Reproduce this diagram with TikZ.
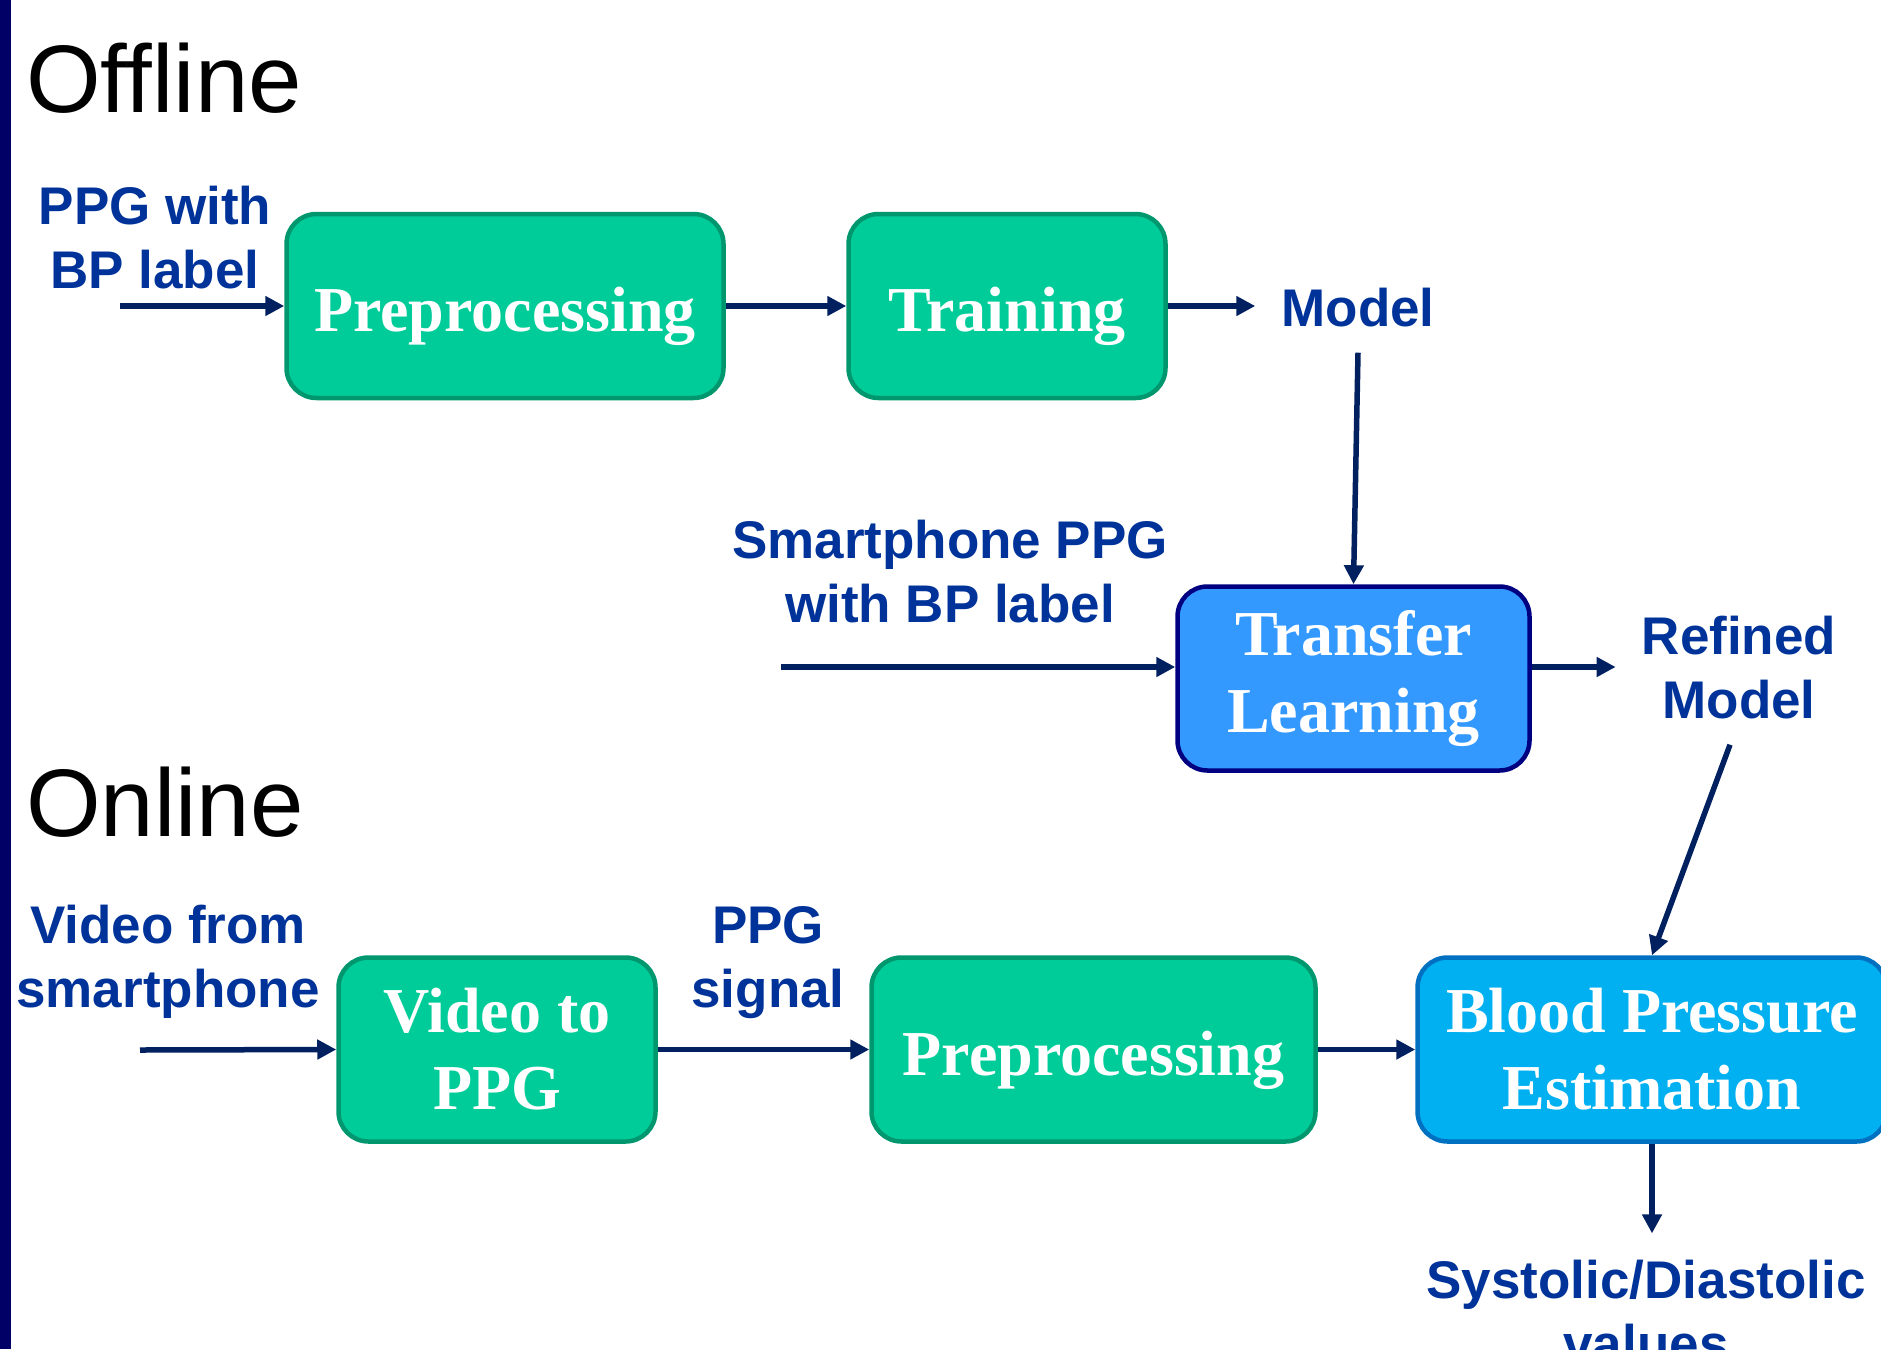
\documentclass[tikz,border=0pt]{standalone}
\usepackage{fontspec}
\setmainfont{Liberation Serif}
\setsansfont{Liberation Sans}
\usetikzlibrary{arrows.meta}
\definecolor{boxgreen}{HTML}{00CC99}
\definecolor{boxgreenline}{HTML}{00976F}
\definecolor{tlblue}{HTML}{3399FF}
\definecolor{tlline}{HTML}{000080}
\definecolor{bpblue}{HTML}{00B0F0}
\definecolor{bpline}{HTML}{0070C0}
\definecolor{lblblue}{HTML}{003399}
\definecolor{arrownavy}{HTML}{002060}
\definecolor{barnavy}{HTML}{000066}
\begin{document}
\begin{tikzpicture}[x=1pt,y=-1pt,
  blk/.style={draw,rounded corners=30pt,line width=4.5pt,text=white,
    font=\fontsize{64}{77}\selectfont\bfseries,align=center,inner sep=0pt,
    minimum height=184pt,execute at begin node={\rule{0pt}{66pt}}},
  grn/.style={blk,fill=boxgreen,draw=boxgreenline},
  lbl/.style={anchor=base,inner sep=26pt,text=lblblue,align=center,
    font=\sffamily\bfseries\fontsize{53}{64}\selectfont},
  ttl/.style={anchor=base west,inner sep=0pt,
    font=\sffamily\fontsize{96}{115}\selectfont},
  arr/.style={-{Triangle[length=19pt,width=19pt]},line width=5.5pt,draw=arrownavy}]
\useasboundingbox (0,0) rectangle (1881,1349);
\clip (0,0) rectangle (1881,1349);
\fill[barnavy] (0,0) rectangle (11,1349);
% offline part
\node[ttl] (offline) at (26,112) {Offline};
\node[lbl] (ppglab) at (155,288) {PPG with\\BP label};
\coordinate (ppgin) at (120,306);
\node[grn,minimum width=437pt] (pre1) at (505,306) {Preprocessing};
\node[grn,minimum width=317pt] (train) at (1007,306) {Training};
\node[lbl] (model) at (1358,326) {Model};
\node[lbl] (smlab) at (950,622) {Smartphone PPG\\with BP label};
\coordinate (smin) at (781,667);
\node[blk,fill=tlblue,draw=tlline,minimum width=352pt] (tl) at (1353.5,678.5)
  {Transfer\\Learning};
\node[lbl] (refined) at (1739,718) {Refined\\Model};
\draw[arr] (ppgin) -- (pre1.west);
\draw[arr] (pre1) -- (train);
\draw[arr] (train.east) -- (train.east -| model.west);
\draw[arr] (model.south) -- (tl.north);
\draw[arr] (smin) -- (smin -| tl.west);
\draw[arr] (tl.east |- smin) -- (refined.west |- smin);
% online part
\node[ttl] (online) at (26,836) {Online};
\node[lbl] (vidlab) at (168,1007) {Video from\\smartphone};
\coordinate (vidin) at (140,1050);
\node[grn,minimum width=317pt] (v2p) at (497,1049.5) {Video to\\PPG};
\node[lbl] (ppgsig) at (768,1007) {PPG\\signal};
\node[grn,minimum width=444pt] (pre2) at (1093.5,1049.5) {Preprocessing};
\node[blk,fill=bpblue,draw=bpline,minimum width=469pt] (bp) at (1652,1049.5)
  {Blood Pressure\\Estimation};
\node[lbl] (values) at (1646,1362) {Systolic/Diastolic\\values};
\draw[arr] (vidin) -- (v2p.west);
\draw[arr] (v2p) -- (pre2);
\draw[arr] (pre2) -- (bp);
\draw[arr] ([xshift=-9pt]refined.south) -- (bp.north);
\draw[arr] (bp.south) -- (bp.south |- values.north);
\end{tikzpicture}
\end{document}
